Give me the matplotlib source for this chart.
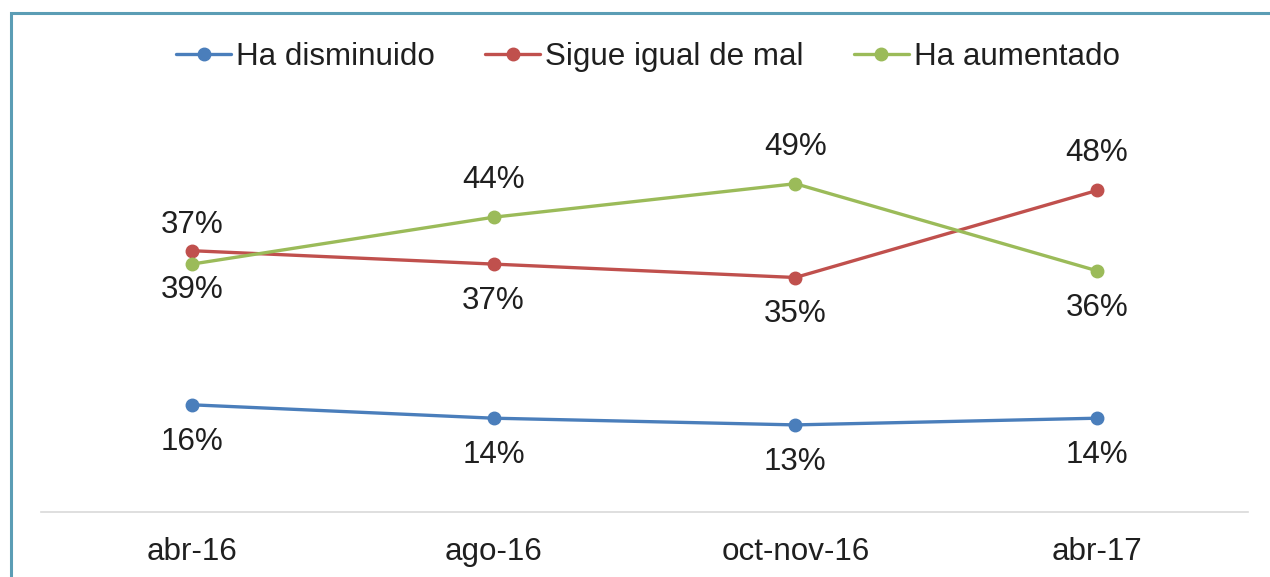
import matplotlib
matplotlib.use("Agg")
import matplotlib.pyplot as plt
from matplotlib.patches import Rectangle

plt.rcParams['font.family'] = ['Liberation Sans', 'DejaVu Sans']

categories = ["abr-16", "ago-16", "oct-nov-16", "abr-17"]
series_names = ["Ha disminuido", "Sigue igual de mal", "Ha aumentado"]
disminuido = [16, 14, 13, 14]
igual = [39, 37, 35, 48]
aumentado = [37, 44, 49, 36]
# data labels as printed in the original chart
disminuido_labels = ["16%", "14%", "13%", "14%"]
igual_labels = ["37%", "37%", "35%", "48%"]
aumentado_labels = ["39%", "44%", "49%", "36%"]

colors = ["#4A7EBB", "#C0504D", "#9BBB59"]
text_color = "#1F1F1F"
FS = 22.6

W, H = 1270, 577
fig = plt.figure(figsize=(W / 100, H / 100), dpi=100)
ax = fig.add_axes([41 / W, 1 - 512 / H, (1248 - 41) / W, (512 - 110) / H])

x = list(range(len(categories)))
series = [disminuido, igual, aumentado]
labels = [disminuido_labels, igual_labels, aumentado_labels]
# label placement: +1 above, -1 below
placement = [[-1, -1, -1, -1], [1, -1, -1, 1], [-1, 1, 1, -1]]

for vals, name, col in zip(series, series_names, colors):
    ax.plot(x, vals, color=col, lw=2.4, marker='o', markersize=9, label=name,
            solid_capstyle='round')

for si, (vals, labs) in enumerate(zip(series, labels)):
    for i, (v, t) in enumerate(zip(vals, labs)):
        d = placement[si][i]
        off = 26 if i == 0 and si > 0 else 37
        ax.annotate(t, (i, v), xytext=(0, d * off), textcoords='offset pixels',
                    ha='center', va='center', fontsize=FS, color=text_color)

ax.set_xlim(-0.5, 3.5)
ax.set_ylim(0, 60)
ax.set_xticks(x)
ax.set_xticklabels(categories, fontsize=FS, color=text_color)
ax.tick_params(axis='x', length=0, pad=18)
ax.set_yticks([])
for s in ['top', 'right', 'left']:
    ax.spines[s].set_visible(False)
ax.spines['bottom'].set_color('#D9D9D9')
ax.spines['bottom'].set_linewidth(1.2)

leg = fig.legend(loc='center', bbox_to_anchor=(648 / W, 1 - 57 / H), ncol=3,
                 frameon=False, fontsize=FS, handlelength=1.75,
                 handletextpad=0.16, columnspacing=1.6)
for t in leg.get_texts():
    t.set_color(text_color)

fig.patches.append(Rectangle((11 / W, -0.1), 1.2, 1 - 13 / H + 0.1,
                             transform=fig.transFigure, fill=False,
                             edgecolor='#5B9DB5', lw=2.2, zorder=0))

fig.savefig("out.png", dpi=100)
